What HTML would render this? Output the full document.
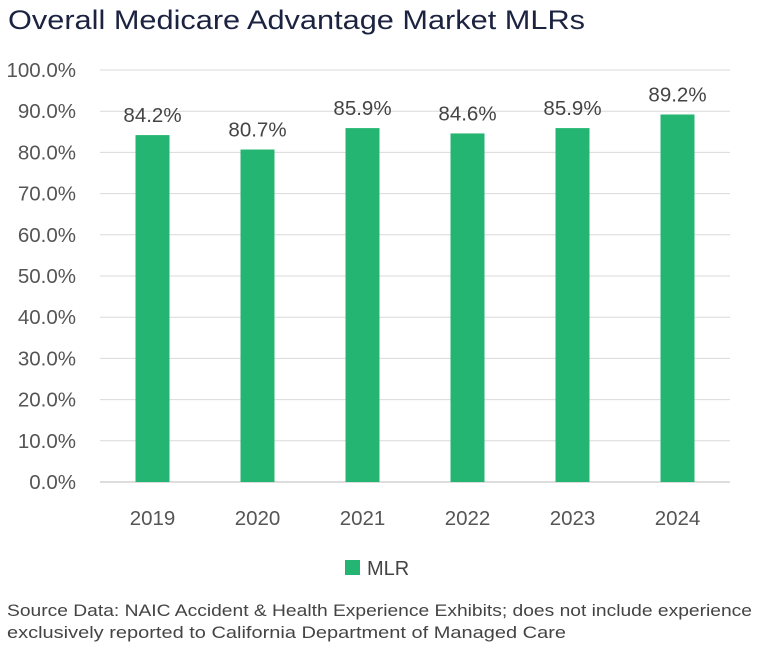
<!DOCTYPE html>
<html><head><meta charset="utf-8"><style>
body{margin:0;background:#fff;width:761px;height:645px;overflow:hidden;font-family:"Liberation Sans",sans-serif;}
</style></head><body>
<svg id="chart" width="761" height="645" xmlns="http://www.w3.org/2000/svg">
<text x="8" y="29" font-size="27" fill="#1b2340" textLength="577" lengthAdjust="spacingAndGlyphs">Overall Medicare Advantage Market MLRs</text>
<g id="grid"></g><g id="bars"></g><g id="xl"></g>
<rect x="345" y="560" width="15" height="15" fill="#25b573"/>
<text x="367" y="575" font-size="20" fill="#444">MLR</text>
<text x="7" y="616" font-size="17" fill="#444" textLength="745" lengthAdjust="spacingAndGlyphs">Source Data: NAIC Accident &amp; Health Experience Exhibits; does not include experience</text>
<text x="7" y="638" font-size="17" fill="#444" textLength="559" lengthAdjust="spacingAndGlyphs">exclusively reported to California Department of Managed Care</text>
</svg>
<script>
const categories=["2019","2020","2021","2022","2023","2024"];
const values=[84.2,80.7,85.9,84.6,85.9,89.2];
const ticks=[0,10,20,30,40,50,60,70,80,90,100];
const NS="http://www.w3.org/2000/svg";
const x0=100,x1=730,y0=482,y1=70;
function y(v){return y0-(v/100)*(y0-y1);}
function xc(i){return x0+(i+0.5)*(x1-x0)/categories.length;}
function mk(t,a,p){const e=document.createElementNS(NS,t);for(const k in a)e.setAttribute(k,a[k]);p.appendChild(e);return e;}
const g=document.getElementById('grid'),b=document.getElementById('bars'),xl=document.getElementById('xl');
ticks.forEach(t=>{
 const l=mk('line',{x1:x0,x2:x1,y1:y(t),y2:y(t),stroke:t===0?'#bbb':'#d9d9d9','stroke-width':1},g);
 
 
 const tx=mk('text',{x:76,y:y(t)+7,'font-size':20.5,fill:'#555','text-anchor':'end'},g);
 tx.textContent=t.toFixed(1)+'%';
 
 
});
categories.forEach((c,i)=>{
 const r=mk('rect',{x:xc(i)-17,y:y(values[i]),width:34,height:y0-y(values[i]),fill:'#25b573'},b);
 
 
 const v=mk('text',{x:xc(i),y:y(values[i])-13,'font-size':20.5,fill:'#444','text-anchor':'middle'},b);
 v.textContent=values[i].toFixed(1)+'%';
 
 
 const t=mk('text',{x:xc(i),y:525,'font-size':20.5,fill:'#555','text-anchor':'middle'},xl);
 t.textContent=c;
 
 
});
</script>
</body></html>
